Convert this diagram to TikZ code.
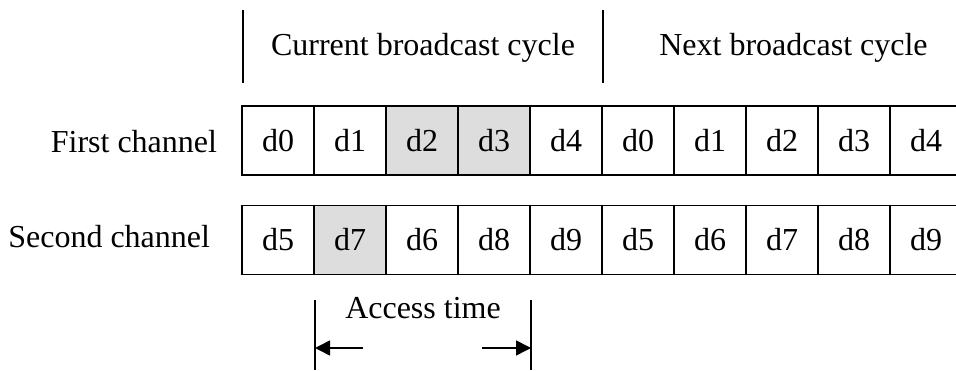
\documentclass[tikz,border=0pt]{standalone}
\usepackage{fontspec}
\setmainfont{Liberation Serif}
\usetikzlibrary{arrows.meta}
\definecolor{shade}{HTML}{DDDDDD}
\begin{document}
\begin{tikzpicture}[x=1pt,y=-1pt,
  every node/.style={font=\fontsize{32}{38}\selectfont, inner sep=0pt, outer sep=0pt},
  cell/.style={draw=black, line width=1.8pt, minimum width=72pt, minimum height=69pt, fill=white},
  hot/.style={cell, fill=shade},
  tick/.style={line width=1.8pt},
  span/.style={line width=1.6pt, -{Triangle[length=15pt,width=15pt]}}]
\useasboundingbox (0,0) rectangle (956,371);

% cycle boundaries and headings
\coordinate (c0t) at (243,10);  \coordinate (c0b) at (243,83);
\coordinate (c1t) at (603,10);  \coordinate (c1b) at (603,83);
\draw[tick] (c0t) -- (c0b);
\draw[tick] (c1t) -- (c1b);
\node[anchor=base] (cur) at (423,56) {Current broadcast cycle};
\node[anchor=base] (nxt) at (793.5,56) {Next broadcast cycle};

% channel labels
\node[anchor=base east] (ch1) at (217,153) {First channel};
\node[anchor=base east] (ch2) at (210,248) {Second channel};

% first channel slots
\foreach \t [count=\i from 0] in {d0,d1,d2,d3,d4,d0,d1,d2,d3,d4}{
  \ifnum\i=2 \def\sty{hot}\else\ifnum\i=3 \def\sty{hot}\else\def\sty{cell}\fi\fi
  \node[\sty] (a\i) at (278+72*\i,140.5) {\t};
}
% second channel slots
\foreach \t [count=\i from 0] in {d5,d7,d6,d8,d9,d5,d6,d7,d8,d9}{
  \ifnum\i=1 \def\sty{hot}\else\def\sty{cell}\fi
  \node[\sty] (b\i) at (278+72*\i,240) {\t};
}

% access time marker
\coordinate (s0) at (315,300); \coordinate (s1) at (315,370);
\coordinate (e0) at (531,300); \coordinate (e1) at (531,370);
\draw[tick] (s0) -- (s1);
\draw[tick] (e0) -- (e1);
\node[anchor=base] (acc) at (423,319) {Access time};
\coordinate (la) at (363,348); \coordinate (lt) at (315,348);
\coordinate (ra) at (482,348); \coordinate (rt) at (531,348);
\draw[span] (la) -- (lt);
\draw[span] (ra) -- (rt);
\end{tikzpicture}
\end{document}
